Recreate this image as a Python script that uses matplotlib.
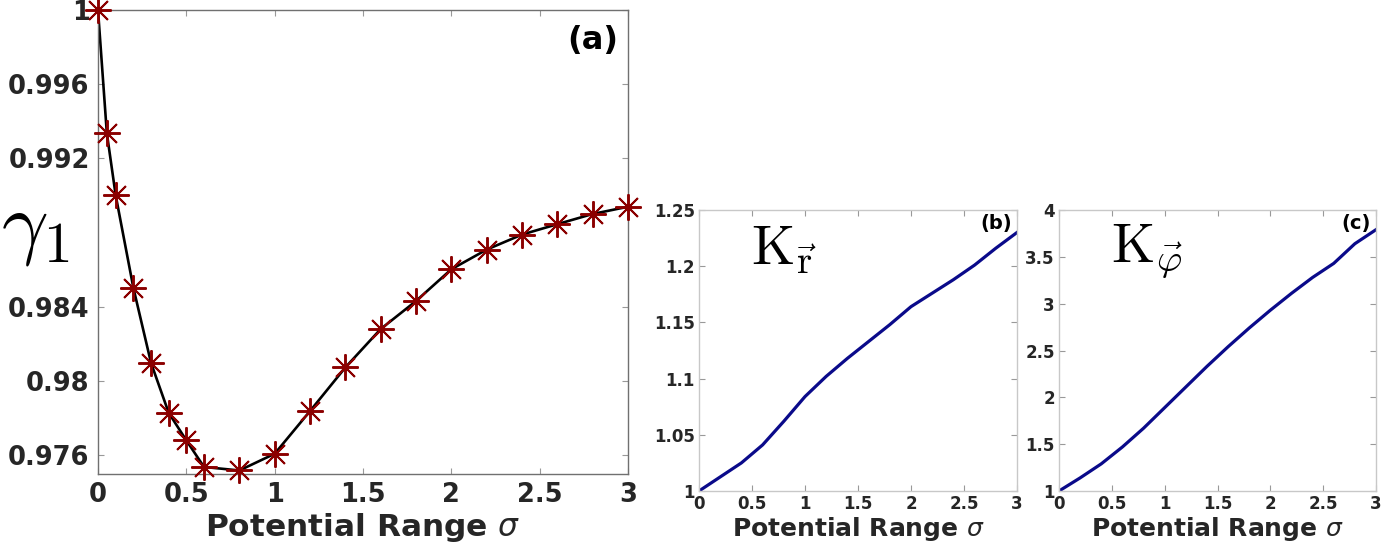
import numpy as np
import matplotlib
matplotlib.use('Agg')
import matplotlib.pyplot as plt

# panel (a): gamma_1 vs sigma
sigma_a = [0, 0.05, 0.1, 0.2, 0.3, 0.4, 0.5, 0.6, 0.8, 1.0, 1.2, 1.4,
           1.6, 1.8, 2.0, 2.2, 2.4, 2.6, 2.8, 3.0]
gamma1 = [1.0, 0.99337, 0.99002, 0.98504, 0.98099, 0.97830, 0.97681, 0.97538,
          0.97519, 0.97609, 0.97839, 0.98074, 0.98281, 0.98432, 0.98603,
          0.98709, 0.98790, 0.98846, 0.98901, 0.98940]
a_yticks = [0.976, 0.98, 0.984, 0.992, 0.996, 1]
a_yticklabels = ['0.976', '0.98', '0.984', '0.992', '0.996', '1']

# panels (b), (c)
sigma_bc = [0, 0.2, 0.4, 0.6, 0.8, 1.0, 1.2, 1.4, 1.6, 1.8, 2.0, 2.2, 2.4,
            2.6, 2.8, 3.0]
K_r = [1.0, 1.0125, 1.025, 1.041, 1.062, 1.084, 1.102, 1.118, 1.133, 1.148,
       1.164, 1.176, 1.188, 1.201, 1.216, 1.230]
K_phi = [1.0, 1.14, 1.29, 1.47, 1.67, 1.89, 2.11, 2.33, 2.54, 2.74, 2.93,
         3.11, 3.28, 3.43, 3.64, 3.79]
b_yticks = [1, 1.05, 1.1, 1.15, 1.2, 1.25]
c_yticks = [1, 1.5, 2, 2.5, 3, 3.5, 4]
xticks = [0, 0.5, 1, 1.5, 2, 2.5, 3]

W, H = 1382, 548
fig = plt.figure(figsize=(W / 100, H / 100), dpi=100)

def box(l, r, t, b):
    return [l / W, (H - b) / H, (r - l) / W, (b - t) / H]

txtcol = '#262626'

def style(ax, tsize, spcol):
    ax.tick_params(direction='in', top=True, right=True, length=4,
                   color='#999999', labelsize=tsize, labelcolor=txtcol, pad=7)
    for lab in ax.get_xticklabels() + ax.get_yticklabels():
        lab.set_fontweight('heavy')
    for s in ax.spines.values():
        s.set_color(spcol)
        s.set_linewidth(1.0)

# (a)
ax1 = fig.add_axes(box(98, 628, 10, 474))
ax1.plot(sigma_a, gamma1, '-', color='black', linewidth=1.9, zorder=2)
ax1.plot(sigma_a, gamma1, linestyle='none', marker=(8, 2, 0), markersize=19,
         markeredgewidth=1.4, color='#8b0000', clip_on=False, zorder=3)
ax1.set_xlim(0, 3)
ax1.set_ylim(0.975, 1.0)
ax1.set_xticks(xticks)
ax1.set_xticklabels(['0', '0.5', '1', '1.5', '2', '2.5', '3'])
ax1.set_yticks(a_yticks)
ax1.set_yticklabels(a_yticklabels)
style(ax1, 18.5, '#707070')
ax1.tick_params(pad=6)
ax1.set_xlabel(r'Potential Range $\sigma$', fontsize=22.5, fontweight='bold',
               color=txtcol, labelpad=2)
ax1.text(0.982, 0.968, '(a)', transform=ax1.transAxes, ha='right', va='top',
         fontsize=23, fontweight='bold', color='black')
fig.text(1 / W, (H - 248) / H, r'$\gamma_1$', fontsize=59,
         math_fontfamily='cm', ha='left', va='baseline')

# (b)
ax2 = fig.add_axes(box(699, 1017, 210, 491))
ax2.plot(sigma_bc, K_r, '-', color='#0a0a8a', linewidth=2.3)
ax2.set_xlim(0, 3)
ax2.set_ylim(1, 1.25)
ax2.set_xticks(xticks)
ax2.set_xticklabels(['0', '0.5', '1', '1.5', '2', '2.5', '3'])
ax2.set_yticks(b_yticks)
ax2.set_yticklabels(['1', '1.05', '1.1', '1.15', '1.2', '1.25'])
style(ax2, 12, '#c8c8c8')
ax2.tick_params(pad=3)
ax2.set_xlabel(r'Potential Range $\sigma$', fontsize=18, fontweight='bold',
               color=txtcol, labelpad=1)
ax2.text(0.985, 0.985, '(b)', transform=ax2.transAxes, ha='right', va='top',
         fontsize=14, fontweight='bold', color='black')
ax2.text(0.165, 0.955, r'$\mathrm{K}_{\vec{\mathrm{r}}}$', transform=ax2.transAxes,
         fontsize=40, math_fontfamily='cm', ha='left', va='top')

# (c)
ax3 = fig.add_axes(box(1059, 1376, 210, 491))
ax3.plot(sigma_bc, K_phi, '-', color='#0a0a8a', linewidth=2.3)
ax3.set_xlim(0, 3)
ax3.set_ylim(1, 4)
ax3.set_xticks(xticks)
ax3.set_xticklabels(['0', '0.5', '1', '1.5', '2', '2.5', '3'])
ax3.set_yticks(c_yticks)
ax3.set_yticklabels(['1', '1.5', '2', '2.5', '3', '3.5', '4'])
style(ax3, 12, '#c8c8c8')
ax3.tick_params(pad=3)
ax3.set_xlabel(r'Potential Range $\sigma$', fontsize=18, fontweight='bold',
               color=txtcol, labelpad=1)
ax3.text(0.985, 0.985, '(c)', transform=ax3.transAxes, ha='right', va='top',
         fontsize=14, fontweight='bold', color='black')
ax3.text(0.165, 0.955, r'$\mathrm{K}_{\vec{\varphi}}$', transform=ax3.transAxes,
         fontsize=40, math_fontfamily='cm', ha='left', va='top')

fig.savefig('out.png', dpi=100)
